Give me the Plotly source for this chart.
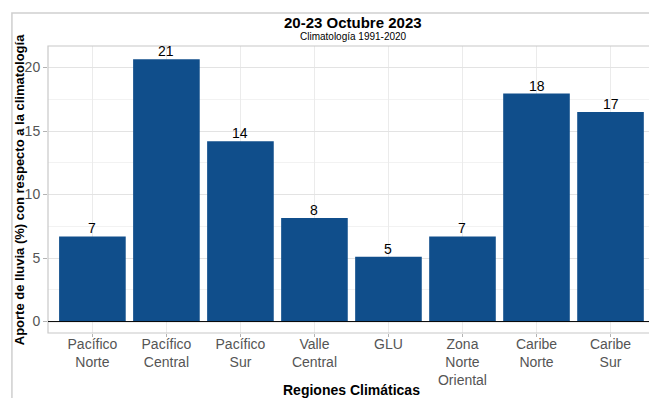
import plotly.graph_objects as go

regions = ["Pacífico<br>Norte", "Pacífico<br>Central", "Pacífico<br>Sur", "Valle<br>Central",
           "GLU", "Zona<br>Norte<br>Oriental", "Caribe<br>Norte", "Caribe<br>Sur"]
aporte = [6.7, 20.65, 14.2, 8.15, 5.1, 6.7, 17.95, 16.5]
labels = ["7", "21", "14", "8", "5", "7", "18", "17"]
yticks = [0, 5, 10, 15, 20]

FONT = "Liberation Sans, Arial, sans-serif"
BAR = "#104E8B"

fig = go.Figure()
fig.add_trace(go.Bar(
    x=regions, y=aporte,
    marker=dict(color=BAR, line=dict(width=0)), width=0.9, cliponaxis=False,
))

annotations = [
    dict(x=r, y=v, text=t, xref="x", yref="y", showarrow=False, yanchor="bottom",
         yshift=-2, font=dict(size=14, color="black", family=FONT))
    for r, v, t in zip(regions, aporte, labels)
]

annotations += [
    dict(text="<b>20-23 Octubre 2023</b>", x=0.508, y=1.083, xref="paper", yref="paper",
         showarrow=False, font=dict(size=15, color="black"), xanchor="center", yanchor="middle"),
    dict(text="Climatología 1991-2020", x=0.508, y=1.032, xref="paper", yref="paper",
         showarrow=False, font=dict(size=10, color="black"), xanchor="center", yanchor="middle"),
    dict(text="<b>Aporte de lluvia (%) con respecto a la climatología</b>", x=-0.047, y=0.5,
         xref="paper", yref="paper", textangle=-90, showarrow=False,
         font=dict(size=13, color="black"), xanchor="center", yanchor="middle"),
    dict(text="<b>Regiones Climáticas</b>", x=0.505, y=-0.2, xref="paper", yref="paper",
         showarrow=False, font=dict(size=14, color="black"), xanchor="center", yanchor="middle"),
]

fig.update_layout(
    width=649, height=398,
    margin=dict(l=48, r=0, t=46, b=65),
    paper_bgcolor="white", plot_bgcolor="white",
    showlegend=False,
    font=dict(family=FONT),
    xaxis=dict(
        range=[-0.6, 7.52], showgrid=True, gridcolor="#EBEBEB", gridwidth=1,
        tickfont=dict(size=14, color="#555555"), ticks="outside", ticklen=3,
        tickcolor="#B3B3B3", showline=False, zeroline=False, fixedrange=True,
        ticklabelstandoff=-5,
    ),
    yaxis=dict(
        range=[-0.9, 21.7], tickvals=yticks, showgrid=True, gridcolor="#E3E3E3", gridwidth=1,
        minor=dict(dtick=2.5, tick0=2.5, showgrid=True, gridcolor="#F2F2F2", gridwidth=1),
        tickfont=dict(size=14, color="#555555"), ticks="outside", ticklen=4,
        tickcolor="#B3B3B3", showline=False, zeroline=False,
    ),
    shapes=[
        dict(type="rect", xref="paper", yref="paper", x0=0, x1=1.02, y0=0, y1=1,
             line=dict(color="#C8C8C8", width=1.2), layer="above"),
        dict(type="line", xref="paper", yref="y", x0=0, x1=1, y0=0, y1=0,
             line=dict(color="black", width=1), layer="above"),
        dict(type="rect", xref="paper", yref="paper", x0=-0.06, x1=1.05, y0=-0.3, y1=1.115,
             line=dict(color="#CFCFCF", width=1.5)),
    ],
    annotations=annotations,
)

fig.write_html("out.html")
